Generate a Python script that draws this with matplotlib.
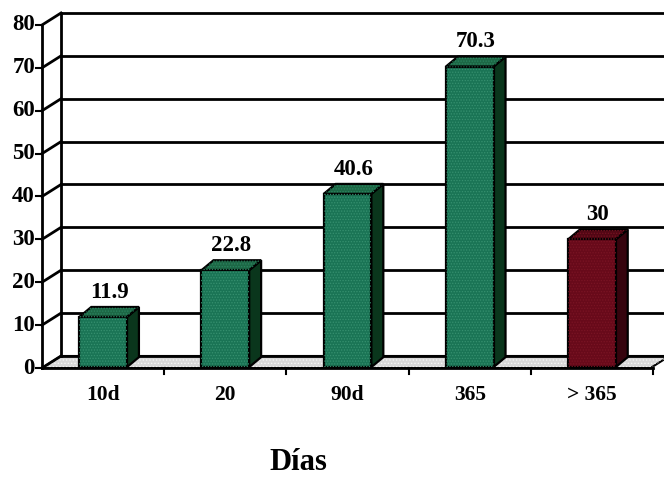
import matplotlib.pyplot as plt
from matplotlib.patches import Polygon

# datos: porcentaje acumulado por intervalo de días
categorias = ['10d', '20', '90d', '365', '> 365']
valores = [11.9, 22.8, 40.6, 70.3, 30]
etiquetas = ['11.9', '22.8', '40.6', '70.3', '30']
y_ticks = [0, 10, 20, 30, 40, 50, 60, 70, 80]

VERDE = ('#1a7455', '#0a361c', '#1d6846')   # frente, lateral, tapa
ROJO = ('#680a1a', '#36040e', '#520714')

plt.rcParams['font.family'] = ['Liberation Serif', 'DejaVu Serif']
plt.rcParams['hatch.linewidth'] = 0.6

fig = plt.figure(figsize=(6.64, 4.78), dpi=100)
ax = fig.add_axes([42 / 664, 110 / 478, 611 / 664, 343 / 478])
ax.set_xlim(0, len(categorias))
ax.set_ylim(0, 80)
ax.axis('off')

# profundidad (en px) convertida a unidades de datos
p0 = ax.transData.transform((0, 0))
p1 = ax.transData.transform((1, 1))
ux, uy = p1[0] - p0[0], p1[1] - p0[1]
wdx, wdy = 19 / ux, 12 / uy      # pared del fondo
bdx, bdy = 12 / ux, 10 / uy      # profundidad de las columnas
xmax = len(categorias) + 0.3


def poly(pts, fc, ec='black', lw=1.6, hatch=None, hc=None, z=2):
    ax.add_patch(Polygon(pts, closed=True, facecolor=fc, edgecolor=ec,
                         linewidth=lw, zorder=z, clip_on=False))
    if hatch:
        ax.add_patch(Polygon(pts, closed=True, facecolor='none', edgecolor=hc,
                             linewidth=0, hatch=hatch, zorder=z + 0.1, clip_on=False))


# suelo
poly([(0, 0), (len(categorias) - 0.02, 0), (len(categorias) - 0.02 + wdx, wdy), (xmax, wdy), (wdx, wdy)],
     '#d8d8d8', lw=1.5, hatch='.....', hc='#f4f4f4', z=1)

# pared: cuadrícula, diagonales y ejes
for t in y_ticks:
    ax.plot([wdx, xmax], [t + wdy, t + wdy], color='black', lw=2, zorder=1.5, clip_on=False)
    ax.plot([0, wdx], [t, t + wdy], color='black', lw=2, zorder=1.5, clip_on=False)
    ax.plot([-6 / ux, 0], [t, t], color='black', lw=1.5, clip_on=False)
    ax.text(-7 / ux, t, str(t), ha='right', va='center', fontsize=16.5,
            fontweight='bold')
ax.plot([0, 0], [0, 80], color='black', lw=2, clip_on=False)
ax.plot([wdx, wdx], [wdy, 80 + wdy], color='black', lw=2, zorder=1.5, clip_on=False)
ax.plot([0, len(categorias)], [0, 0], color='black', lw=2, zorder=1.6, clip_on=False)
for i in range(1, len(categorias) + 1):
    ax.plot([i, i], [0, -6 / uy], color='black', lw=1.5, clip_on=False)

# columnas 3D
ancho = 0.39
for i, (cat, v, lab) in enumerate(zip(categorias, valores, etiquetas)):
    fr, lat, tapa = ROJO if cat == '> 365' else VERDE
    x0 = i + 0.5 - ancho / 2
    x1 = x0 + ancho
    y0 = 0.2
    es_verde = fr == VERDE[0]
    poly([(x1, y0), (x1 + bdx, y0 + bdy), (x1 + bdx, v + bdy), (x1, v)], lat, z=3)
    poly([(x0, v), (x1, v), (x1 + bdx, v + bdy), (x0 + bdx, v + bdy)], tapa, z=3,
         hatch='......', hc='#2c8560' if es_verde else '#761222')
    poly([(x0, y0), (x1, y0), (x1, v), (x0, v)], fr, z=3,
         hatch='......', hc='#36906f' if es_verde else '#7a1424')
    ax.annotate(lab, (i + 0.5 + bdx / 2, v + bdy), xytext=(0, 3),
                textcoords='offset points', ha='center', va='bottom',
                fontsize=16.5, fontweight='bold', zorder=4)
    ax.text(i + 0.5, -27 / uy, cat, ha='center', va='center', fontsize=15.5,
            fontweight='bold')

fig.text(298 / 664, 1 - 462 / 478, 'Días', ha='center', va='center',
         fontsize=22, fontweight='bold')

fig.savefig('out.png', dpi=100)
